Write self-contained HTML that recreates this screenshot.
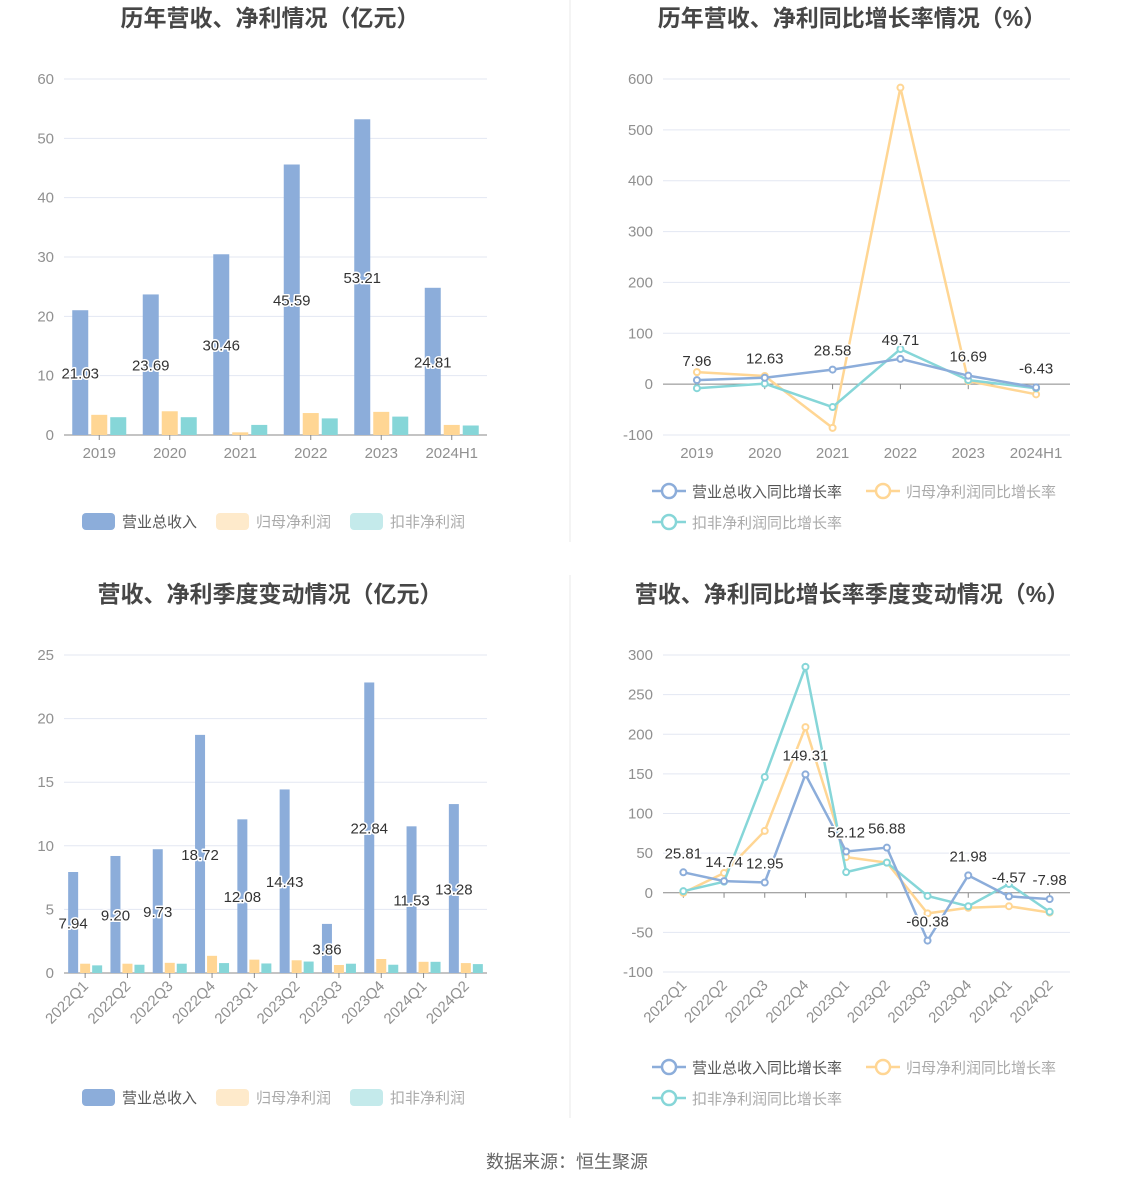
<!DOCTYPE html>
<html><head><meta charset="utf-8">
<style>
html,body{margin:0;padding:0;background:#fff;}
body{width:1134px;height:1188px;overflow:hidden;font-family:"Liberation Sans","Noto Sans CJK SC",sans-serif;}
svg text{font-family:"Liberation Sans","Noto Sans CJK SC",sans-serif;}
.lbl{paint-order:stroke;stroke:#fff;stroke-width:3px;stroke-linejoin:round;}
</style></head>
<body>
<svg id="root" width="1134" height="1188" xmlns="http://www.w3.org/2000/svg">
<line x1="570" y1="0" x2="570" y2="542" stroke="#e8e8e8"/>
<line x1="570" y1="575" x2="570" y2="1118" stroke="#e8e8e8"/>
<text x="270" y="26" text-anchor="middle" font-size="23" font-weight="bold" fill="#464646">历年营收、净利情况（亿元）</text>
<text x="852" y="26" text-anchor="middle" font-size="23" font-weight="bold" fill="#464646">历年营收、净利同比增长率情况（%）</text>
<text x="270" y="602" text-anchor="middle" font-size="23" font-weight="bold" fill="#464646">营收、净利季度变动情况（亿元）</text>
<text x="852" y="602" text-anchor="middle" font-size="23" font-weight="bold" fill="#464646">营收、净利同比增长率季度变动情况（%）</text>
<text x="567" y="1168" text-anchor="middle" font-size="18" fill="#666">数据来源：恒生聚源</text>
<g id="c1"></g>
<g id="c2"></g>
<g id="c3"></g>
<g id="c4"></g>
</svg>
<script>
const yearCats = ['2019','2020','2021','2022','2023','2024H1'];
const yearRevenue = [21.03,23.69,30.46,45.59,53.21,24.81];
const yearNetProfit = [3.4,4.0,0.45,3.7,3.9,1.7];
const yearDeductProfit = [3.0,3.0,1.7,2.8,3.1,1.6];
const yearBarTicks = [0,10,20,30,40,50,60];
const yearRevGrowth = [7.96,12.63,28.58,49.71,16.69,-6.43];
const yearNetGrowth = [23.6,16,-86,583,6,-20];
const yearDeductGrowth = [-8,1,-45,69,8,-8];
const yearLineTicks = [-100,0,100,200,300,400,500,600];
const qCats = ['2022Q1','2022Q2','2022Q3','2022Q4','2023Q1','2023Q2','2023Q3','2023Q4','2024Q1','2024Q2'];
const qRevenue = [7.94,9.20,9.73,18.72,12.08,14.43,3.86,22.84,11.53,13.28];
const qNetProfit = [0.73,0.73,0.8,1.35,1.05,1.0,0.63,1.1,0.88,0.78];
const qDeductProfit = [0.6,0.65,0.73,0.78,0.75,0.9,0.73,0.65,0.88,0.7];
const qBarTicks = [0,5,10,15,20,25];
const qRevGrowth = [25.81,14.74,12.95,149.31,52.12,56.88,-60.38,21.98,-4.57,-7.98];
const qNetGrowth = [0,25,78,209,45,38,-26,-19,-17,-25];
const qDeductGrowth = [2,14,146,285,26,38,-4,-17,11,-24];
const qLineTicks = [-100,-50,0,50,100,150,200,250,300];

const NS='http://www.w3.org/2000/svg';
const BLUE='#8cadda', ORANGE='#ffd694', TEAL='#86d6d8';
function mk(parent,tag,attrs,txt){const e=document.createElementNS(NS,tag);for(const k in attrs)e.setAttribute(k,attrs[k]);if(txt!==undefined)e.textContent=txt;parent.appendChild(e);return e;}

function axes(g,x0,x1,yScale,ticks,cats,rotate,baseY,labelY){
  ticks.forEach(t=>{const y=yScale(t);
    const l=mk(g,'line',{x1:x0,x2:x1,y1:y,y2:y,stroke:t===0?'#888':'#e3e7f2'});
    
    
    const tx=mk(g,'text',{x:x0-10,y:y+5,'text-anchor':'end','font-size':15,fill:'#909090'},t);
    
    
  });
  const w=(x1-x0)/cats.length;
  cats.forEach((c,i)=>{const cx=x0+w*(i+0.5);
    const tk=mk(g,'line',{x1:cx,x2:cx,y1:baseY,y2:baseY+5,stroke:'#888'});
    
    
    let tx;
    if(rotate){tx=mk(g,'text',{x:cx+4,y:labelY+14,'text-anchor':'end','font-size':15,fill:'#909090',transform:`rotate(-45 ${cx+4} ${labelY+14})`},c);}
    else tx=mk(g,'text',{x:cx,y:labelY+23,'text-anchor':'middle','font-size':15,fill:'#909090'},c);
    
    
  });
  return w;
}

function barChart(g,x0,x1,yTop,yBot,maxV,ticks,cats,s1,s2,s3,bw,gap,rotate,legY){
  const ys=v=>yBot-(v/maxV)*(yBot-yTop);
  const w=axes(g,x0,x1,ys,ticks,cats,rotate,yBot,yBot);
  const series=[[s1,BLUE,'bar-revenue'],[s2,ORANGE,'bar-net-profit'],[s3,TEAL,'bar-deducted-profit']];
  cats.forEach((c,i)=>{const cx=x0+w*(i+0.5);const gw=3*bw+2*gap;
    series.forEach((s,k)=>{const bx=cx-gw/2+k*(bw+gap);const y=ys(s[0][i]);
      const r=mk(g,'rect',{x:bx,y:y,width:bw,height:yBot-y,fill:s[1]});
      
      
    });
  });
  cats.forEach((c,i)=>{const cx=x0+w*(i+0.5);const gw=3*bw+2*gap;const bx=cx-gw/2+bw/2;
    const y=(ys(s1[i])+yBot)/2;
    const t=mk(g,'text',{x:bx,y:y+6,'text-anchor':'middle','font-size':15,fill:'#333',class:'lbl'},s1[i].toFixed(2));
    
    
  });
  const leg=[['营业总收入','#8cadda','#555',82],['归母净利润','#feeacb','#aaa',216],['扣非净利润','#c4eaeb','#aaa',350]];
  leg.forEach(l=>{
    const r=mk(g,'rect',{x:l[3],y:legY-8,width:33,height:17,rx:4,fill:l[1]});
    
    
    const t=mk(g,'text',{x:l[3]+40,y:legY+6,'font-size':15,fill:l[2]},l[0]);
    
    
  });
}

function lineChart(g,x0,x1,yTop,yBot,minV,maxV,ticks,cats,s1,s2,s3,rotate,legY){
  const ys=v=>yBot-(v-minV)/(maxV-minV)*(yBot-yTop);
  const w=axes(g,x0,x1,ys,ticks,cats,rotate,ys(0),yBot);
  const series=[[s2,ORANGE,'line-net-growth'],[s3,TEAL,'line-deducted-growth'],[s1,BLUE,'line-revenue-growth']];
  series.forEach(s=>{
    const pts=s[0].map((v,i)=>(x0+w*(i+0.5))+','+ys(v)).join(' ');
    const p=mk(g,'polyline',{points:pts,fill:'none',stroke:s[1],'stroke-width':2.5});
    
    
    s[0].forEach((v,i)=>{
      const c=mk(g,'circle',{cx:x0+w*(i+0.5),cy:ys(v),r:3,fill:'#fff',stroke:s[1],'stroke-width':2});
      
      
    });
  });
  s1.forEach((v,i)=>{
    const t=mk(g,'text',{x:x0+w*(i+0.5),y:ys(v)-14,'text-anchor':'middle','font-size':15,fill:'#333',class:'lbl'},v.toFixed(2));
    
    
  });
  const leg=[['营业总收入同比增长率',BLUE,'#555',652,legY],['归母净利润同比增长率',ORANGE,'#aaa',866,legY],['扣非净利润同比增长率',TEAL,'#aaa',652,legY+31]];
  leg.forEach(l=>{
    const ln=mk(g,'line',{x1:l[3],x2:l[3]+34,y1:l[4],y2:l[4],stroke:l[1],'stroke-width':2.5});
    
    
    const c=mk(g,'circle',{cx:l[3]+17,cy:l[4],r:7,fill:'#fff',stroke:l[1],'stroke-width':2.5});
    
    
    const t=mk(g,'text',{x:l[3]+40,y:l[4]+6,'font-size':15,fill:l[2]},l[0]);
    
    
  });
}

barChart(document.getElementById('c1'),64,487,79,435,60,yearBarTicks,yearCats,yearRevenue,yearNetProfit,yearDeductProfit,16,3,false,521);
lineChart(document.getElementById('c2'),663,1070,79,435,-100,600,yearLineTicks,yearCats,yearRevGrowth,yearNetGrowth,yearDeductGrowth,false,491);
barChart(document.getElementById('c3'),64,487,655,973,25,qBarTicks,qCats,qRevenue,qNetProfit,qDeductProfit,10,2,true,1097);
lineChart(document.getElementById('c4'),663,1070,655,972,-100,300,qLineTicks,qCats,qRevGrowth,qNetGrowth,qDeductGrowth,true,1067);
</script>
</body></html>
